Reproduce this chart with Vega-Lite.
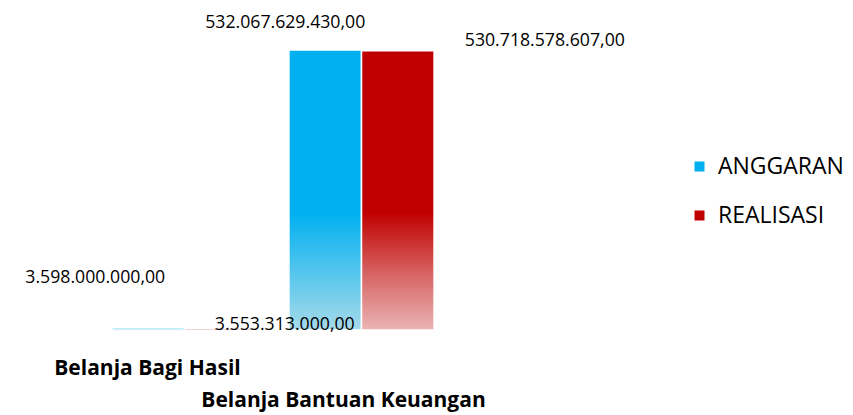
{
  "$schema": "https://vega.github.io/schema/vega-lite/v6.json",
  "width": 354,
  "height": 280,
  "autosize": "none",
  "padding": {"left": 96, "top": 50, "right": 403, "bottom": 85},
  "background": "white",
  "config": {"view": {"stroke": null}, "font": "Open Sans"},
  "data": {"values": [
    {"kategori": "Belanja Bagi Hasil", "seri": "ANGGARAN", "nilai": 3598000000.00, "label": "3.598.000.000,00"},
    {"kategori": "Belanja Bagi Hasil", "seri": "REALISASI", "nilai": 3553313000.00, "label": "3.553.313.000,00"},
    {"kategori": "Belanja Bantuan Keuangan", "seri": "ANGGARAN", "nilai": 532067629430.00, "label": "532.067.629.430,00"},
    {"kategori": "Belanja Bantuan Keuangan", "seri": "REALISASI", "nilai": 530718578607.00, "label": "530.718.578.607,00"}
  ]},
  "encoding": {
    "x": {
      "field": "kategori", "type": "nominal", "sort": null,
      "scale": {"paddingInner": 0.18, "paddingOuter": 0.09},
      "axis": {
        "title": null, "domain": false, "ticks": false, "labelAngle": 0,
        "labelFont": "Open Sans", "labelFontWeight": "bold", "labelFontSize": 21, "labelColor": "black",
        "labelLimit": 400,
        "labelPadding": {"condition": {"test": "datum.value === 'Belanja Bagi Hasil'", "value": 27}, "value": 59},
        "labelOffset": {"condition": {"test": "datum.value === 'Belanja Bagi Hasil'", "value": -37}, "value": -18}
      }
    },
    "xOffset": {"field": "seri", "type": "nominal", "sort": null},
    "y": {"field": "nilai", "type": "quantitative", "scale": {"domain": [0, 532067629430], "nice": false}, "axis": null}
  },
  "layer": [
    {
      "mark": {"type": "bar"},
      "encoding": {
        "color": {
          "field": "seri", "type": "nominal",
          "scale": {"domain": ["ANGGARAN", "REALISASI"], "range": ["#00B0F0", "#C00000"]},
          "legend": {
            "title": null, "orient": "none", "legendX": 592, "legendY": 105,
            "symbolType": "square", "symbolSize": 100, "symbolStrokeWidth": 0,
            "labelFont": "Open Sans", "labelFontSize": 23, "labelColor": "black",
            "rowPadding": 25, "labelOffset": 7
          }
        }
      }
    },
    {
      "mark": {"type": "bar", "stroke": "white", "strokeWidth": 1.5},
      "encoding": {
        "fill": {
          "condition": {
            "test": "datum.seri === 'ANGGARAN'",
            "value": {"gradient": "linear", "x1": 0, "y1": 0, "x2": 0, "y2": 1,
              "stops": [{"offset": 0, "color": "#00B0F0"}, {"offset": 0.58, "color": "#00B0F0"}, {"offset": 1, "color": "#A6DAEA"}]}
          },
          "value": {"gradient": "linear", "x1": 0, "y1": 0, "x2": 0, "y2": 1,
            "stops": [{"offset": 0, "color": "#C00000"}, {"offset": 0.58, "color": "#C00000"}, {"offset": 0.8, "color": "#D76464"}, {"offset": 1, "color": "#EBB4B4"}]}
        }
      }
    },
    {
      "transform": [{"filter": "datum.kategori === 'Belanja Bantuan Keuangan' && datum.seri === 'ANGGARAN'"}],
      "mark": {"type": "text", "fontSize": 17.7, "color": "black", "align": "center", "baseline": "alphabetic", "dx": -40, "dy": -22},
      "encoding": {"text": {"field": "label"}}
    },
    {
      "transform": [{"filter": "datum.kategori === 'Belanja Bantuan Keuangan' && datum.seri === 'REALISASI'"}],
      "mark": {"type": "text", "fontSize": 17.7, "color": "black", "align": "left", "baseline": "middle", "dx": 67, "dy": -10},
      "encoding": {"text": {"field": "label"}}
    },
    {
      "transform": [{"filter": "datum.kategori === 'Belanja Bagi Hasil' && datum.seri === 'ANGGARAN'"}],
      "mark": {"type": "text", "fontSize": 17.7, "color": "black", "align": "right", "baseline": "middle", "dx": 17, "dy": -50},
      "encoding": {"text": {"field": "label"}}
    },
    {
      "transform": [{"filter": "datum.kategori === 'Belanja Bagi Hasil' && datum.seri === 'REALISASI'"}],
      "mark": {"type": "text", "fontSize": 17.7, "color": "black", "align": "center", "baseline": "middle", "dx": 64, "dy": -3},
      "encoding": {"text": {"field": "label"}}
    }
  ]
}
